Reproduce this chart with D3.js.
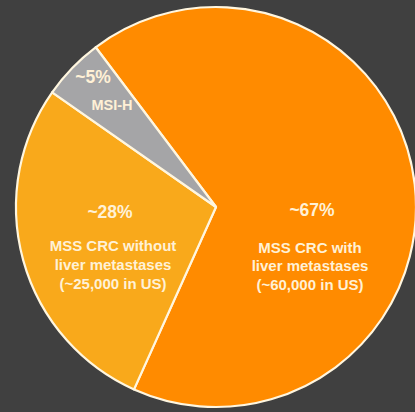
<!DOCTYPE html>
<html>
<head>
<meta charset="utf-8">
<script src="https://cdn.jsdelivr.net/npm/d3@7"></script>
<style>
html,body{margin:0;padding:0;background:#404040;}
svg{display:block;}
</style>
</head>
<body>
<svg id="chart" width="415" height="412"></svg>
<script>
// ---- data ----
const categories = ["MSS CRC with liver metastases", "MSS CRC without liver metastases", "MSI-H"];
const values = [67, 28, 5];
const pctLabels = ["~67%", "~28%", "~5%"];
const descLines = [
  ["MSS CRC with", "liver metastases", "(~60,000 in US)"],
  ["MSS CRC without", "liver metastases", "(~25,000 in US)"],
  ["MSI-H"]
];
const colors = ["#ff8b00", "#f9a91b", "#a5a5a7"];

// ---- layout ----
const W = 415, H = 412;
const cx = 216, cy = 207, R = 200;
const svg = d3.select("#chart");
svg.append("rect").attr("width", W).attr("height", H).attr("fill", "#404040");

const g = svg.append("g").attr("transform", `translate(${cx},${cy})`);

const startA = -37 * Math.PI / 180;
const pie = d3.pie().sort(null).value(d => d)
  .startAngle(startA).endAngle(startA + 2 * Math.PI);
const arcs = pie(values);
const arc = d3.arc().innerRadius(0).outerRadius(R);

g.selectAll("path.slice").data(arcs).join("path")
  .attr("class", "slice")
  .attr("d", arc)
  .attr("fill", (d, i) => colors[i])
  .attr("stroke", "#fff6df")
  .attr("stroke-width", 2.2)
  .attr("stroke-linejoin", "round");

// label anchors relative to centre (layout only)
const labelPos = [
  { pct: [96, 3], desc: [94, 40], gap: 18.5 },
  { pct: [-106, 5], desc: [-103, 38], gap: 19 },
  { pct: [-123, -130], desc: [-104, -102], gap: 18 }
];
const font = "'Liberation Sans', Arial, Helvetica, sans-serif";
const txtColor = "#fff1d6";

arcs.forEach((a, i) => {
  const L = labelPos[i];
  g.append("text")
    .attr("x", L.pct[0]).attr("y", L.pct[1])
    .attr("text-anchor", "middle").attr("dominant-baseline", "central")
    .attr("font-family", font).attr("font-weight", "bold")
    .attr("font-size", 17.5).attr("fill", txtColor)
    .text(pctLabels[i]);
  descLines[i].forEach((line, j) => {
    g.append("text")
      .attr("x", L.desc[0]).attr("y", L.desc[1] + j * L.gap)
      .attr("text-anchor", "middle").attr("dominant-baseline", "central")
      .attr("font-family", font).attr("font-weight", "bold")
      .attr("font-size", i === 2 ? 14.5 : 15).attr("fill", txtColor)
      .text(line);
  });
});
</script>
</body>
</html>
